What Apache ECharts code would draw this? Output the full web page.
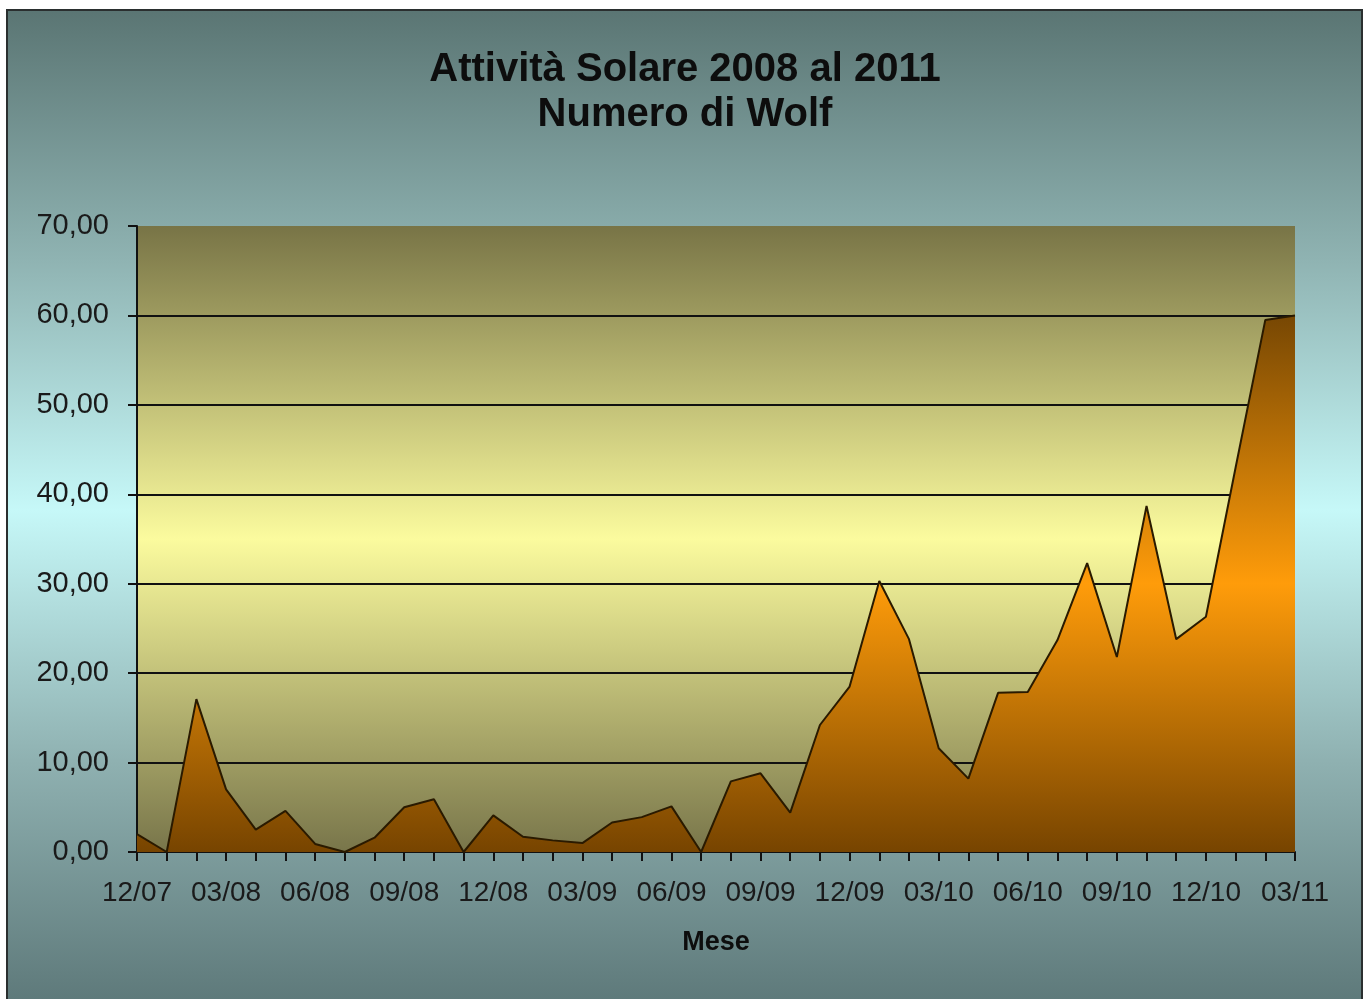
<!DOCTYPE html>
<html>
<head>
<meta charset="utf-8">
<script src="https://cdn.jsdelivr.net/npm/echarts@6/dist/echarts.min.js"></script>
<style>
  html, body { margin: 0; padding: 0; background: #fff; }
  #main { width: 1370px; height: 999px; }
</style>
</head>
<body>
<div id="main"></div>
<script>
// months, Dec 2007 .. Mar 2011
var mesi = [
    '12/07',
    '01/08', '02/08', '03/08', '04/08', '05/08', '06/08', '07/08', '08/08', '09/08', '10/08', '11/08', '12/08',
    '01/09', '02/09', '03/09', '04/09', '05/09', '06/09', '07/09', '08/09', '09/09', '10/09', '11/09', '12/09',
    '01/10', '02/10', '03/10', '04/10', '05/10', '06/10', '07/10', '08/10', '09/10', '10/10', '11/10', '12/10',
    '01/11', '02/11', '03/11'
];

// Wolf number per month
var wolf = [
    2.0,
    0.0, 17.1, 7.0, 2.5, 4.6, 0.9, 0.0, 1.6, 5.0, 5.9, 0.0, 4.1,
    1.7, 1.3, 1.0, 3.3, 3.9, 5.1, 0.0, 7.9, 8.8, 4.4, 14.2, 18.5,
    30.3, 23.8, 11.6, 8.2, 17.8, 17.9, 23.7, 32.3, 21.8, 38.7, 23.8, 26.3,
    43.0, 59.5, 60.0
];

var titolo = 'Attività Solare 2008 al 2011\nNumero di Wolf';
var nomeAsseX = 'Mese';

var myChart = echarts.init(document.getElementById('main'));

var font = '"Liberation Sans", Arial, sans-serif';

var option = {
    backgroundColor: '#ffffff',
    animation: false,
    graphic: [{
        type: 'rect',
        z: -10,
        silent: true,
        shape: { x: 7, y: 10, width: 1355, height: 1000 },
        style: {
            fill: new echarts.graphic.LinearGradient(0, 0, 0, 1, [
                { offset: 0, color: '#5a7573' },
                { offset: 0.25, color: '#8fb3b2' },
                { offset: 0.5, color: '#c6f8f8' },
                { offset: 0.75, color: '#8fb1b1' },
                { offset: 1, color: '#5c7778' }
            ]),
            stroke: '#2a2f2f',
            lineWidth: 2
        }
    }],
    title: {
        text: titolo,
        left: 'center',
        top: 42,
        textStyle: {
            fontFamily: font,
            fontSize: 40,
            fontWeight: 'bold',
            lineHeight: 45,
            color: '#0d0d0d'
        }
    },
    grid: {
        left: 137,
        right: 75,
        top: 226,
        bottom: 147,
        show: true,
        borderWidth: 0,
        backgroundColor: new echarts.graphic.LinearGradient(0, 0, 0, 1, [
            { offset: 0, color: '#787446' },
            { offset: 0.5, color: '#fbfb9e' },
            { offset: 1, color: '#78754a' }
        ])
    },
    xAxis: {
        type: 'category',
        data: mesi,
        boundaryGap: false,
        name: nomeAsseX,
        nameLocation: 'middle',
        nameGap: 77,
        nameTextStyle: {
            fontFamily: font,
            fontSize: 27,
            fontWeight: 'bold',
            color: '#0d0d0d'
        },
        axisLine: { lineStyle: { color: '#111', width: 2 } },
        axisTick: {
            interval: 0,
            length: 9,
            lineStyle: { color: '#111', width: 2 }
        },
        axisLabel: {
            interval: 2,
            margin: 27,
            fontFamily: font,
            fontSize: 28,
            color: '#1a1a1a'
        },
        splitLine: { show: false }
    },
    yAxis: {
        type: 'value',
        min: 0,
        max: 70,
        interval: 10,
        axisLine: { show: true, lineStyle: { color: '#111', width: 2 } },
        axisTick: { show: true, length: 9, lineStyle: { color: '#111', width: 2 } },
        axisLabel: {
            margin: 28,
            fontFamily: font,
            fontSize: 29,
            color: '#1a1a1a',
            formatter: function (v) { return v.toFixed(2).replace('.', ','); }
        },
        splitLine: {
            show: true,
            showMinLine: false,
            showMaxLine: false,
            lineStyle: { color: '#111', width: 2 }
        }
    },
    series: [{
        name: 'Numero di Wolf',
        type: 'line',
        data: wolf,
        symbol: 'none',
        lineStyle: { color: '#2a1a00', width: 2 },
        areaStyle: {
            opacity: 1,
            color: new echarts.graphic.LinearGradient(0, 0, 0, 1, [
                { offset: 0, color: '#774703' },
                { offset: 0.5, color: '#ff9c0a' },
                { offset: 1, color: '#774400' }
            ])
        }
    }]
};

myChart.setOption(option);
</script>
</body>
</html>
